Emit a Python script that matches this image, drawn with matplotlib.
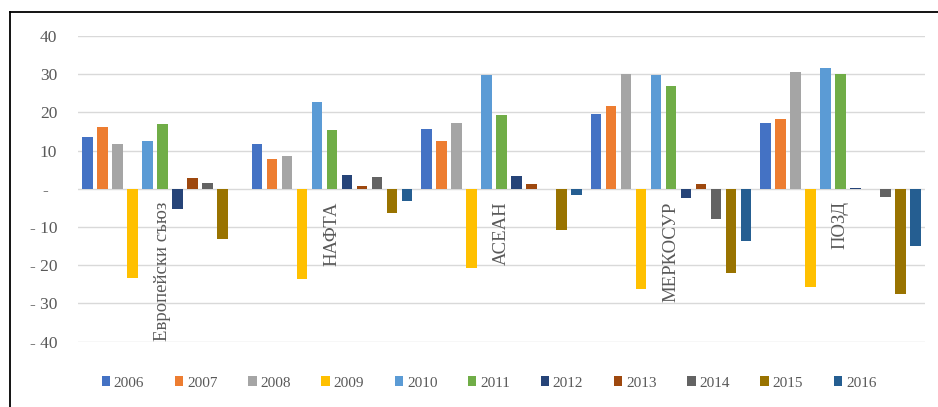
import numpy as np
import matplotlib
matplotlib.use('Agg')
import matplotlib.pyplot as plt
from matplotlib.lines import Line2D

plt.rcParams['font.family'] = ['Liberation Serif', 'DejaVu Serif']

regions = ['Европейски съюз', 'НАФТА', 'АСЕАН', 'МЕРКОСУР', 'ПОЗД']
years = ['2006', '2007', '2008', '2009', '2010', '2011', '2012', '2013', '2014', '2015', '2016']

# values per region, one per year 2006..2016
eu = [13.6, 16.2, 11.8, -23.4, 12.5, 17.1, -5.4, 2.8, 1.6, -13.0, 0.0]
nafta = [11.7, 7.9, 8.6, -23.7, 22.8, 15.4, 3.5, 0.7, 3.2, -6.4, -3.3]
asean = [15.7, 12.5, 17.3, -20.6, 29.8, 19.3, 3.3, 1.3, 0.0, -10.8, -1.5]
mercosur = [19.7, 21.7, 30.1, -26.3, 29.8, 26.8, -2.5, 1.3, -7.9, -21.9, -13.6]
pozd = [17.3, 18.2, 30.7, -25.7, 31.6, 30.1, 0.3, 0.0, -2.2, -27.6, -14.9]

colors = ['#4472C4', '#ED7D31', '#A5A5A5', '#FFC000', '#5B9BD5', '#70AD47',
          '#264478', '#9E480E', '#636363', '#997300', '#255E91']

data = np.array([eu, nafta, asean, mercosur, pozd])

fig = plt.figure(figsize=(9.38, 4.07), dpi=100)
ax = fig.add_axes([78/938, 1-341.7/407, (925-78)/938, (341.7-36)/407])

x = np.arange(len(regions))
slot = 0.0885
width = 0.063
for i, yr in enumerate(years):
    ax.bar(x + (i - 5)*slot, data[:, i], width, color=colors[i], label=yr, zorder=3)

ax.set_xlim(-0.5, 4.5)
ax.set_ylim(-40, 40)
ticks = [40, 30, 20, 10, 0, -10, -20, -30, -40]
ax.set_yticks(ticks)
ax.set_yticklabels([('- %d' % -t) if t < 0 else ('-  ' if t == 0 else str(t)) for t in ticks],
                   fontsize=12.5, color='#595959')
ax.tick_params(axis='y', length=0, pad=15)
ax.set_xticks([])
ax.grid(axis='y', color='#d9d9d9', lw=1.0, zorder=0)
for s in ax.spines.values():
    s.set_visible(False)

for xi, name in zip(x, regions):
    ax.annotate(name, (xi, 0), xytext=(0, -9), textcoords='offset points',
                rotation=90, ha='center', va='top', fontsize=13.5, color='#595959')

leg = fig.legend(loc='center', bbox_to_anchor=(489/938, 1-383/407), ncol=11, frameon=False,
                 fontsize=11, handlelength=0.55, handleheight=0.55, handletextpad=0.25,
                 columnspacing=2.0, labelcolor='#595959')

# chart frame (cropped at right and bottom)
fig.add_artist(Line2D([10/938, 10/938], [0, 1-12/407], color='black', lw=1.3, transform=fig.transFigure))
fig.add_artist(Line2D([10/938, 1], [1-12/407, 1-12/407], color='black', lw=1.3, transform=fig.transFigure))

fig.savefig('out.png', dpi=100)
